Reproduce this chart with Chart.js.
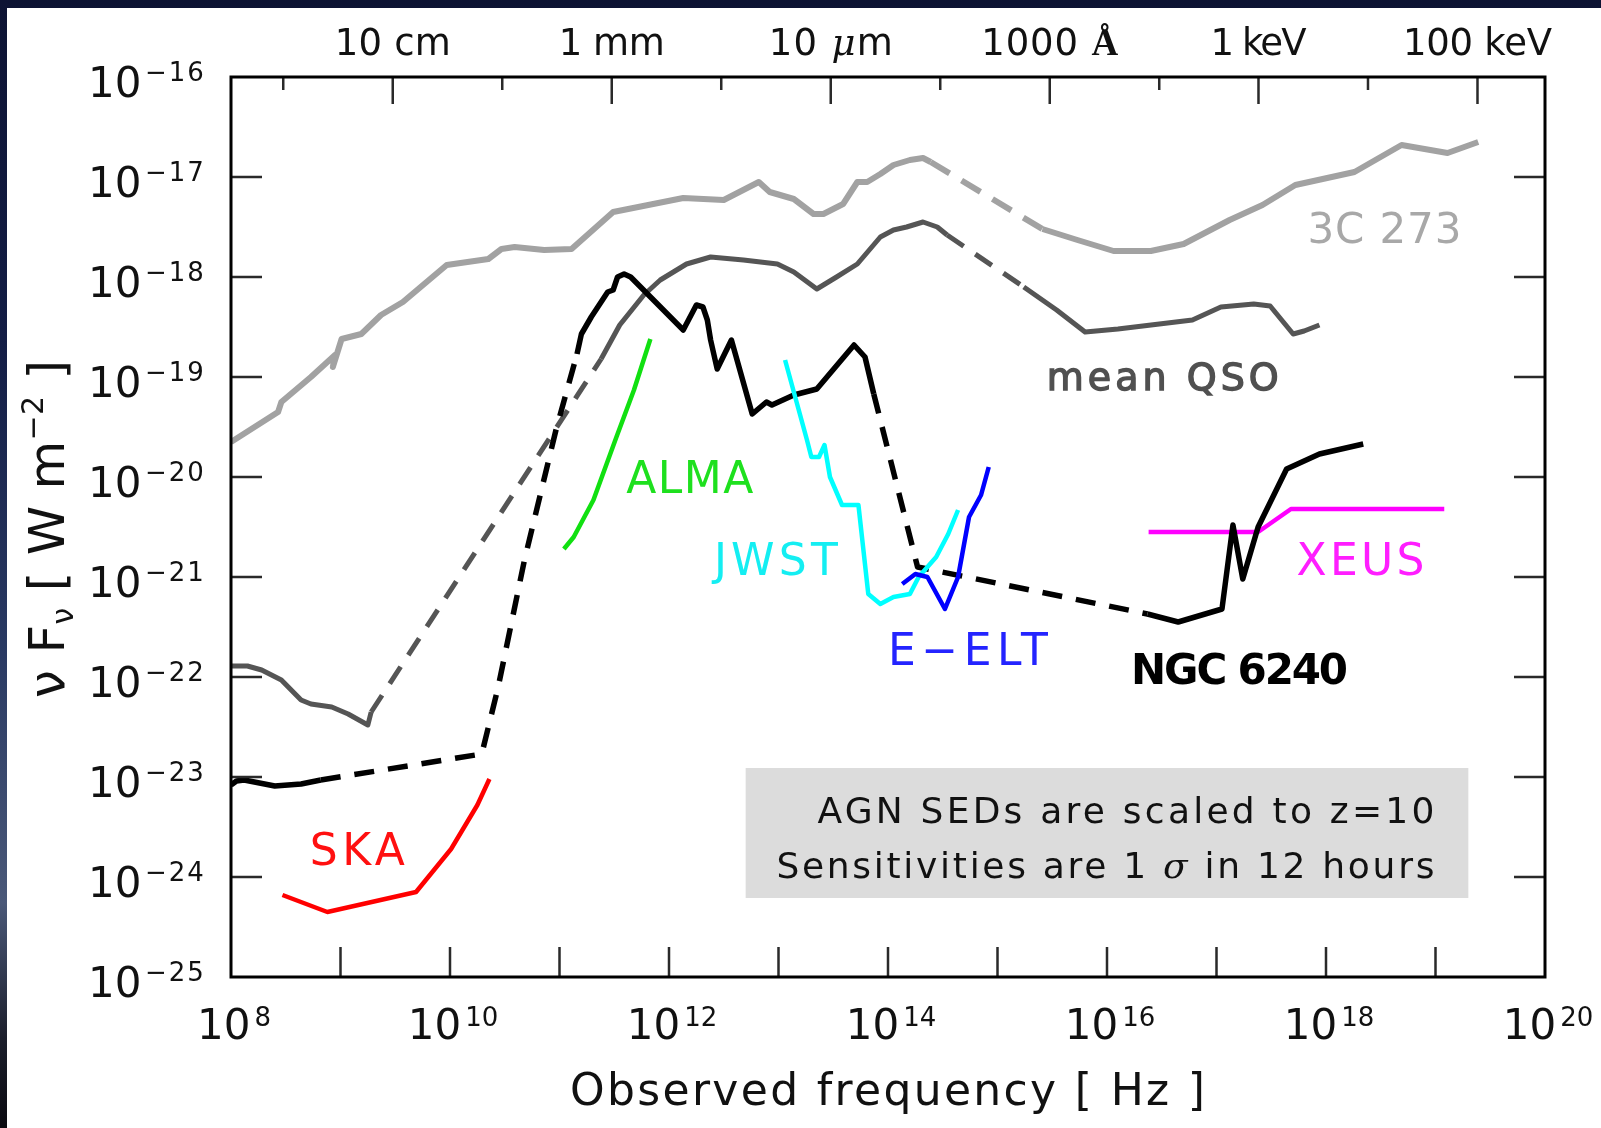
<!DOCTYPE html>
<html>
<head>
<meta charset="utf-8">
<title>AGN SEDs at z=10 and telescope sensitivities</title>
<script src="https://cdn.jsdelivr.net/npm/chart.js@4.4.1/dist/chart.umd.min.js"></script>
<style>
  html, body { margin: 0; padding: 0; }
  body {
    width: 1601px; height: 1128px; overflow: hidden;
    background: linear-gradient(to bottom, #0d1333 0%, #131d45 30%, #2a3a63 58%, #4a5878 80%, #1c1f2c 92%, #0a0a10 100%);
  }
  canvas { display: block; }
</style>
</head>
<body>
<canvas id="sed" width="1601" height="1128"></canvas>
<script>
// All curves: log10(nu / Hz) and log10(nu F_nu / W m^-2)

// 3C 273, light grey
const c273LogNu = [8.00, 8.43, 8.46, 8.73, 8.95, 8.93, 9.01, 9.19, 9.37, 9.57, 9.97, 10.35, 10.47, 10.59, 10.86,
  11.11, 11.49, 12.13, 12.50, 12.82, 12.92, 13.14, 13.32, 13.41, 13.59, 13.72, 13.81, 13.93, 14.05, 14.20,
  14.32, 14.39, 15.41, 15.73, 16.06, 16.40, 16.70, 17.12, 17.42, 17.72, 18.26, 18.69, 19.11, 19.39];
const c273LogF = [-19.65, -19.35, -19.25, -19.00, -18.78, -18.90, -18.62, -18.57, -18.38, -18.25, -17.88, -17.82, -17.72, -17.70, -17.73,
  -17.72, -17.35, -17.21, -17.23, -17.05, -17.15, -17.22, -17.37, -17.37, -17.27, -17.05, -17.05, -16.97, -16.88, -16.83,
  -16.81, -16.85, -17.52, -17.63, -17.74, -17.74, -17.67, -17.43, -17.28, -17.08, -16.95, -16.68, -16.76, -16.65];
const c273Dashed = [31];

// mean QSO, dark grey
const qsoLogNu = [8.00, 8.15, 8.28, 8.46, 8.64, 8.73, 8.92, 9.07, 9.25, 9.28, 11.38, 11.55, 11.77, 11.92, 12.16,
  12.38, 12.68, 12.99, 13.14, 13.35, 13.53, 13.72, 13.93, 14.05, 14.17, 14.32, 14.45, 14.54, 15.24, 15.54,
  15.80, 16.10, 16.78, 17.04, 17.34, 17.49, 17.70, 17.80, 17.94];
const qsoLogF = [-21.89, -21.89, -21.93, -22.03, -22.23, -22.27, -22.30, -22.37, -22.48, -22.35, -18.82, -18.48, -18.18, -18.03, -17.87,
  -17.80, -17.83, -17.87, -17.95, -18.12, -18.00, -17.87, -17.60, -17.53, -17.50, -17.45, -17.50, -17.58, -18.10, -18.33,
  -18.55, -18.52, -18.43, -18.30, -18.27, -18.29, -18.57, -18.54, -18.48];
const qsoDashed = [9, 27];

// NGC 6240, black
const ngcLogNu = [8.00, 8.05, 8.12, 8.40, 8.64, 8.82, 10.29, 10.44, 10.68, 10.97, 11.16, 11.20, 11.29, 11.44, 11.49,
  11.53, 11.59, 11.65, 12.13, 12.25, 12.31, 12.35, 12.38, 12.44, 12.57, 12.76, 12.89, 12.94, 13.14, 13.35,
  13.69, 13.79, 13.87, 14.27, 16.37, 16.65, 17.05, 17.15, 17.24, 17.38, 17.64, 17.94, 18.34];
const ngcLogF = [-23.08, -23.04, -23.03, -23.09, -23.07, -23.03, -22.77, -22.10, -20.83, -19.52, -18.77, -18.57, -18.40, -18.15, -18.13,
  -18.00, -17.97, -18.00, -18.53, -18.28, -18.30, -18.43, -18.63, -18.92, -18.63, -19.37, -19.25, -19.28, -19.18, -19.12,
  -18.68, -18.80, -19.17, -20.90, -21.37, -21.45, -21.32, -20.48, -21.02, -20.50, -19.92, -19.77, -19.67];
const ngcDashed = [5, 6, 7, 8, 9, 32, 33];

// 1 sigma, 12 hour sensitivities
const skaLogNu = [8.47, 8.88, 9.69, 10.01, 10.25, 10.36];
const skaLogF = [-24.18, -24.35, -24.15, -23.72, -23.28, -23.02];
const almaLogNu = [11.04, 11.13, 11.31, 11.52, 11.68, 11.83];
const almaLogF = [-20.72, -20.60, -20.23, -19.60, -19.13, -18.62];
const jwstLogNu = [13.06, 13.26, 13.30, 13.37, 13.42, 13.47, 13.58, 13.73, 13.82, 13.93, 14.05, 14.20, 14.28, 14.44, 14.55, 14.64];
const jwstLogF = [-18.83, -19.63, -19.80, -19.80, -19.68, -20.00, -20.28, -20.28, -21.17, -21.27, -21.20, -21.17, -21.00, -20.80, -20.57, -20.33];
const eeltLogNu = [14.13, 14.25, 14.36, 14.52, 14.64, 14.74, 14.85, 14.92];
const eeltLogF = [-21.07, -20.97, -21.00, -21.32, -21.00, -20.40, -20.18, -19.90];
const xeusLogNu = [16.38, 17.38, 17.68, 19.08];
const xeusLogF = [-20.55, -20.55, -20.32, -20.32];

// axes
const xTickExp = [8, 10, 12, 14, 16, 18, 20];
const yTickExp = [-16, -17, -18, -19, -20, -21, -22, -23, -24, -25];
const topTickNu = [3e9, 3e11, 3e13, 3e15, 2.418e17, 2.418e19];
const topTickLabels = ['10 cm', '1 mm', '10 μm', '1000 Å', '1 keV', '100 keV'];
const topMinorNu = [3e8, 3e10, 3e12, 3e14, 3e16, 2.418e18];

const FONT = '"DejaVu Sans", "Liberation Sans", sans-serif';

const pts = (lx, ly) => lx.map((v, i) => ({ x: Math.pow(10, v), y: Math.pow(10, ly[i]) }));

function curve(lx, ly, color, width, dashed, dash) {
  const set = new Set(dashed || []);
  return {
    data: pts(lx, ly),
    showLine: true,
    borderColor: color,
    borderWidth: width,
    pointRadius: 0,
    pointHoverRadius: 0,
    fill: false,
    tension: 0,
    borderJoinStyle: 'round',
    segment: { borderDash: c => (set.has(c.p0DataIndex) ? dash : undefined) }
  };
}

// text labels placed in data coordinates (left edge, baseline)
const curveLabels = [
  { text: '3C 273', nu: 17.83, f: -17.66, color: '#a8a8a8', font: '42px ' + FONT, width: 154 },
  { text: 'mean QSO', nu: 15.45, f: -19.13, color: '#505050', font: '38px ' + FONT, width: 232, heavy: 1.4 },
  { text: 'ALMA', nu: 11.61, f: -20.16, color: '#1ee01e', font: '44px ' + FONT, width: 127 },
  { text: 'JWST', nu: 12.41, f: -20.98, color: '#14eef2', font: '44px ' + FONT, width: 124 },
  { text: 'E−ELT', nu: 14.00, f: -21.88, color: '#2424ff', font: '44px ' + FONT, width: 160 },
  { text: 'NGC 6240', nu: 16.22, f: -22.07, color: '#000000', font: 'bold 42px ' + FONT, width: 217 },
  { text: 'XEUS', nu: 17.73, f: -20.98, color: '#ff1eff', font: '44px ' + FONT, width: 128 },
  { text: 'SKA', nu: 8.72, f: -23.88, color: '#ff1010', font: '44px ' + FONT, width: 95 }
];

// note box, in data coordinates
const noteBox = { nu0: 12.70, nu1: 19.30, f0: -22.91, f1: -24.21 };
const noteLines = [
  { pieces: [{ t: 'AGN SEDs are scaled to z=10' }], nu: 18.99, f: -23.46, width: 617 },
  { pieces: [{ t: 'Sensitivities are 1 ' }, { t: 'σ', italic: true }, { t: ' in 12 hours' }], nu: 18.99, f: -24.01, width: 658 }
];

// draws text pieces stretched to a given width by spacing out the letters
function drawFit(ctx, pieces, x, y, width, align, heavy) {
  let natural = 0, chars = 0;
  ctx.letterSpacing = '0px';
  for (const p of pieces) {
    ctx.font = p.font;
    p.w = ctx.measureText(p.t).width;
    p.n = [...p.t].length;
    natural += p.w;
    chars += p.n;
  }
  const sp = width && chars > 1 ? (width - natural) / (chars - 1) : 0;
  const total = width || natural;
  let cx = align === 'center' ? x - total / 2 : align === 'right' ? x - total : x;
  ctx.textAlign = 'left';
  ctx.textBaseline = 'alphabetic';
  for (const p of pieces) {
    ctx.font = p.font;
    ctx.letterSpacing = sp + 'px';
    ctx.fillText(p.t, cx, y + (p.dy || 0));
    if (heavy) {
      ctx.lineWidth = heavy;
      ctx.strokeStyle = ctx.fillStyle;
      ctx.strokeText(p.t, cx, y + (p.dy || 0));
    }
    cx += p.w + sp * p.n;
  }
  ctx.letterSpacing = '0px';
}

const decorations = {
  id: 'decorations',
  beforeDraw(chart) {
    const ctx = chart.ctx;
    ctx.save();
    ctx.fillStyle = '#ffffff';
    ctx.fillRect(7, 8, chart.width - 7, chart.height - 8);
    ctx.restore();
  },
  beforeDatasetsDraw(chart) {
    const { ctx, scales: { x, y } } = chart;
    const x0 = x.getPixelForValue(Math.pow(10, noteBox.nu0));
    const x1 = x.getPixelForValue(Math.pow(10, noteBox.nu1));
    const y0 = y.getPixelForValue(Math.pow(10, noteBox.f0));
    const y1 = y.getPixelForValue(Math.pow(10, noteBox.f1));
    ctx.save();
    ctx.fillStyle = '#dcdcdc';
    ctx.fillRect(x0, y0, x1 - x0, y1 - y0);
    ctx.fillStyle = '#111111';
    for (const line of noteLines) {
      const pieces = line.pieces.map(p => ({
        t: p.t,
        font: (p.italic ? 'italic ' : '') + '36px ' + (p.italic ? '"DejaVu Serif", serif' : FONT)
      }));
      drawFit(ctx, pieces, x.getPixelForValue(Math.pow(10, line.nu)), y.getPixelForValue(Math.pow(10, line.f)), line.width, 'right');
    }
    ctx.restore();
  },
  afterDraw(chart) {
    const { ctx, chartArea: a, scales: { x, y } } = chart;
    ctx.save();

    // tick marks, all pointing inwards
    ctx.strokeStyle = '#2a2a2a';
    ctx.lineWidth = 2.5;
    ctx.beginPath();
    for (let e = -17; e >= -24; e--) {
      const py = y.getPixelForValue(Math.pow(10, e));
      ctx.moveTo(a.left, py); ctx.lineTo(a.left + 31, py);
      ctx.moveTo(a.right, py); ctx.lineTo(a.right - 31, py);
    }
    for (let e = 9; e <= 19; e++) {
      const px = x.getPixelForValue(Math.pow(10, e));
      ctx.moveTo(px, a.bottom); ctx.lineTo(px, a.bottom - 30);
    }
    topTickNu.forEach(v => {
      const px = x.getPixelForValue(v);
      ctx.moveTo(px, a.top); ctx.lineTo(px, a.top + 27);
    });
    topMinorNu.forEach(v => {
      const px = x.getPixelForValue(v);
      ctx.moveTo(px, a.top); ctx.lineTo(px, a.top + 13);
    });
    ctx.stroke();

    // frame
    ctx.strokeStyle = '#000000';
    ctx.lineWidth = 3;
    ctx.strokeRect(a.left, a.top, a.right - a.left, a.bottom - a.top);

    ctx.fillStyle = '#111111';
    ctx.textBaseline = 'alphabetic';

    // left tick labels 10^n
    yTickExp.forEach(e => {
      const py = y.getPixelForValue(Math.pow(10, e));
      ctx.textAlign = 'left';
      ctx.font = '42px ' + FONT;
      ctx.fillText('10', 88, py + 20);
      ctx.font = '26px ' + FONT;
      ctx.letterSpacing = '2px';
      ctx.fillText('−' + Math.abs(e), 145, py + 4);
      ctx.letterSpacing = '0px';
    });

    // bottom tick labels 10^n
    xTickExp.forEach(e => {
      const px = x.getPixelForValue(Math.pow(10, e));
      ctx.font = '42px ' + FONT;
      const w1 = ctx.measureText('10').width;
      ctx.font = '26px ' + FONT;
      const w2 = ctx.measureText(String(e)).width;
      const left = px + 3 - (w1 + 4 + w2) / 2;
      ctx.textAlign = 'left';
      ctx.font = '42px ' + FONT;
      ctx.fillText('10', left, 1039);
      ctx.font = '26px ' + FONT;
      ctx.fillText(String(e), left + w1 + 4, 1026);
    });

    // top axis: wavelength / energy
    const topWidths = [116, 106, 124, 137, 96, 149];
    topTickNu.forEach((v, i) => {
      const px = x.getPixelForValue(v);
      const lab = topTickLabels[i];
      let pieces;
      if (lab.includes('μ')) {
        pieces = [{ t: '10 ', font: '37px ' + FONT }, { t: 'μ', font: 'italic 37px "DejaVu Serif", serif' }, { t: 'm', font: '37px ' + FONT }];
      } else if (lab.includes('Å')) {
        pieces = [{ t: '1000 ', font: '37px ' + FONT }, { t: 'Å', font: 'bold 37px "Liberation Serif", serif' }];
      } else {
        pieces = [{ t: lab, font: '37px ' + FONT }];
      }
      drawFit(ctx, pieces, px, 55, topWidths[i], 'center');
    });

    // axis titles
    drawFit(ctx, [{ t: 'Observed frequency [ Hz ]', font: '44px ' + FONT }], 570, 1105, 635, 'left');

    ctx.save();
    ctx.translate(64, 698);
    ctx.rotate(-Math.PI / 2);
    drawFit(ctx, [
      { t: 'ν F', font: '50px ' + FONT },
      { t: 'ν', font: '30px ' + FONT, dy: 9 },
      { t: ' [ W m', font: '50px ' + FONT },
      { t: '−2', font: '30px ' + FONT, dy: -21 },
      { t: ' ]', font: '50px ' + FONT }
    ], 0, 0, 338, 'left');
    ctx.restore();

    // curve names
    curveLabels.forEach(l => {
      ctx.fillStyle = l.color;
      drawFit(ctx, [{ t: l.text, font: l.font }],
        x.getPixelForValue(Math.pow(10, l.nu)), y.getPixelForValue(Math.pow(10, l.f)), l.width, 'left', l.heavy);
    });

    ctx.restore();
  }
};

const ctx = document.getElementById('sed').getContext('2d');
new Chart(ctx, {
  type: 'scatter',
  data: {
    datasets: [
      curve(eeltLogNu, eeltLogF, '#0000ff', 4.5),
      curve(jwstLogNu, jwstLogF, '#00ffff', 4.5),
      curve(ngcLogNu, ngcLogF, '#000000', 5.5, ngcDashed, [20, 14]),
      curve(xeusLogNu, xeusLogF, '#ff00ff', 4.5),
      curve(almaLogNu, almaLogF, '#11e011', 4.5),
      curve(skaLogNu, skaLogF, '#ff0000', 4.5),
      curve(qsoLogNu, qsoLogF, '#555555', 5, qsoDashed, [20, 14]),
      curve(c273LogNu, c273LogF, '#a2a2a2', 6, c273Dashed, [22, 14])
    ]
  },
  options: {
    responsive: false,
    animation: false,
    devicePixelRatio: 1,
    events: [],
    layout: { padding: { left: 231, right: 56, top: 77, bottom: 151 } },
    plugins: { legend: { display: false }, tooltip: { enabled: false } },
    scales: {
      x: { type: 'logarithmic', min: 1e8, max: 1e20, display: false },
      y: { type: 'logarithmic', min: 1e-25, max: 1e-16, display: false }
    }
  },
  plugins: [decorations]
});
</script>
</body>
</html>
